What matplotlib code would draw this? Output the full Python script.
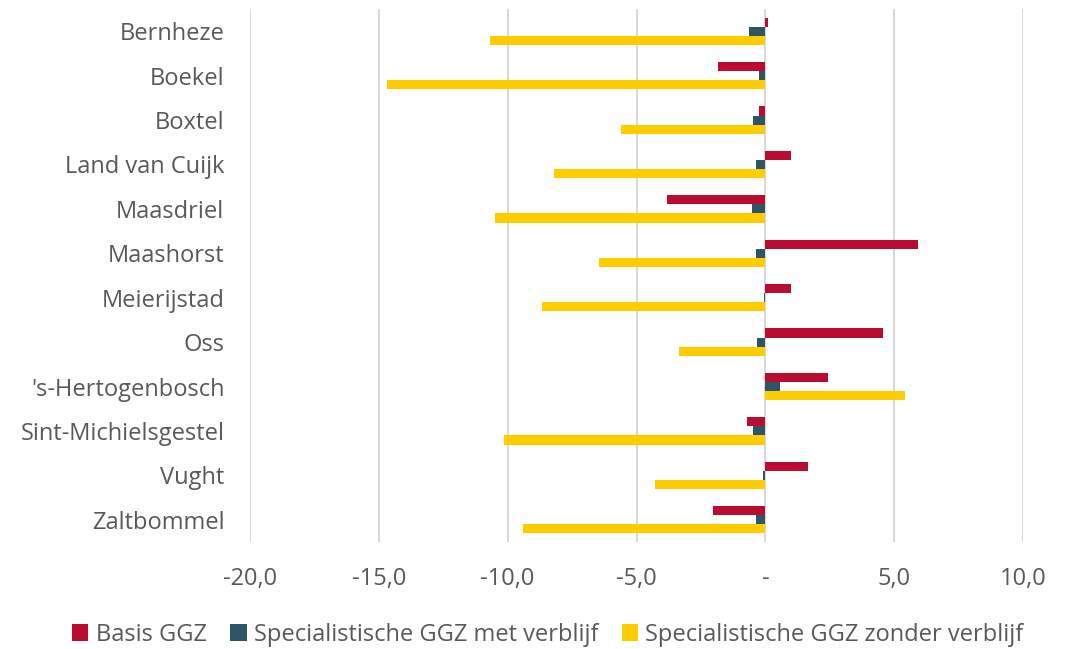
import matplotlib
matplotlib.use("Agg")
import matplotlib.pyplot as plt
import numpy as np
from matplotlib.ticker import FixedLocator, FuncFormatter

categories = ["Bernheze", "Boekel", "Boxtel", "Land van Cuijk", "Maasdriel", "Maashorst",
              "Meierijstad", "Oss", "'s-Hertogenbosch", "Sint-Michielsgestel", "Vught", "Zaltbommel"]
basis = [0.1, -1.85, -0.23, 1.0, -3.8, 5.93, 1.0, 4.57, 2.45, -0.73, 1.67, -2.05]
spec_met = [-0.65, -0.23, -0.47, -0.38, -0.53, -0.35, -0.05, -0.31, 0.55, -0.47, -0.1, -0.38]
spec_zonder = [-10.7, -14.7, -5.6, -8.2, -10.5, -6.47, -8.68, -3.37, 5.43, -10.15, -4.3, -9.42]
series_names = ["Basis GGZ", "Specialistische GGZ met verblijf", "Specialistische GGZ zonder verblijf"]
colors = ["#BA0C2F", "#2E5566", "#FFCC00"]

plt.rcParams['font.family'] = ['Open Sans', 'DejaVu Sans']
fig = plt.figure(figsize=(10.74, 6.49), dpi=100)
ax = fig.add_axes([0.2328, 0.165, 0.7197, 0.821])

y = np.arange(len(categories))
h = 0.205
for i, (vals, name, c) in enumerate(zip([basis, spec_met, spec_zonder], series_names, colors)):
    ax.barh(y + (i - 1) * h, vals, height=h, color=c, label=name, zorder=3)

ax.set_ylim(len(categories) - 0.5, -0.5)
ax.set_xlim(-20, 10)
ax.xaxis.set_major_locator(FixedLocator([-20, -15, -10, -5, 0, 5, 10]))
def fmt(v, pos):
    if abs(v) < 1e-9:
        return "-"
    return f"{v:.1f}".replace(".", ",")
ax.xaxis.set_major_formatter(FuncFormatter(fmt))
ax.set_yticks(y)
ax.set_yticklabels(categories)
ax.grid(axis='x', color='#D9D9D9', linewidth=1.5, zorder=0)
for s in ax.spines.values():
    s.set_visible(False)
ax.tick_params(axis='both', length=0, labelsize=17, labelcolor='#595959')
ax.tick_params(axis='x', pad=18)
ax.tick_params(axis='y', pad=18.5)

handles, labels = ax.get_legend_handles_labels()
fig.legend(handles, labels, loc='center', bbox_to_anchor=(0.51, 0.022), ncol=3, frameon=False,
           fontsize=17, labelcolor='#595959', handlelength=0.7, handleheight=0.7,
           handletextpad=0.3, columnspacing=1.0)

fig.savefig("out.png", dpi=100)
